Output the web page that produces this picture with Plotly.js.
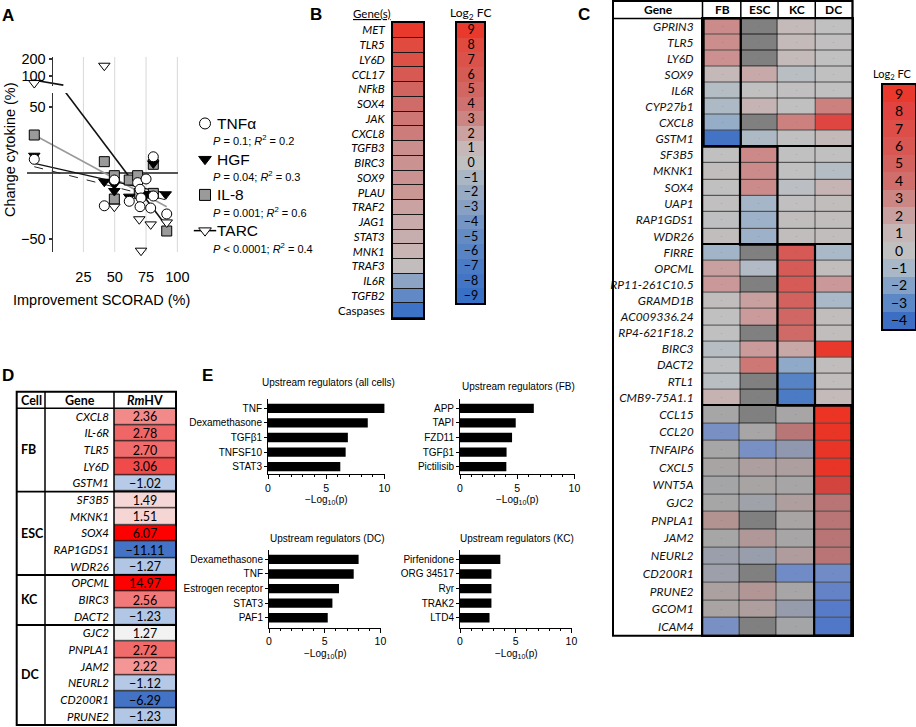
<!DOCTYPE html>
<html><head><meta charset="utf-8">
<script src="https://cdn.plot.ly/plotly-3.0.1.min.js"></script>
<style>html,body{margin:0;padding:0;background:#fff}#chart{width:916px;height:727px}</style>
</head><body><div id="chart"></div>
<script>
// ================= DATA =================
// ---- Panel A: change in cytokine vs SCORAD improvement ----
const tnfX = [-14.2, 41.7, 49.7, 61.6, 68.3, 70.2, 71.0, 70.2, 75.0, 78.7, 80.8, 80.8, 91.5];
const tnfY = [10.4, -24.8, -5.3, -21.4, -7.3, -12.3, -18.9, -25.5, -4.5, -26.5, 12.3, -17.4, -31];
const hgfX = [-14.2, 41.7, 49.7, 49.7, 61.6, 75.5, 80.8, 90.7];
const hgfY = [13.1, -6.6, -8.6, -13.6, -17.9, -15.9, 7.3, -16.1];
const il8X = [-14.2, 41.7, 49.7, 49.7, 61.6, 68.3, 69.6, 80.8, 80.8, 91.5];
const il8Y = [28.8, 8.6, -2, -19.7, -5.3, -2, -15.4, 6.6, -15.4, -43.9];
const tarcX = [49.7, 69.6, 71.0, 78.7, 91.5];
const tarcY = [-25.5, -35, -58.8, -38.9, -37.4];
const tarcHighX = [-14.2, 41.7];
const tarcHighY = [75, 152];
const fitX = [-14.2, 91.5];
const tnfFitY = [4.8, -20.5];
const hgfFitY = [7.3, -15.4];
const il8FitY = [28.8, -25.5];
const tarcFitX = [8.8, 91.8];
const tarcFitY = [63.6, -40.9];
const tarcFitHighX = [-15, 9];
const tarcFitHighY = [85, 69];
const aXTicks = [25, 50, 75, 100];
const aYTicksLow = [-50, 50];
const aYTicksHigh = [100, 200];
const seriesNames = ['TNFα', 'HGF', 'IL-8', 'TARC'];
const seriesStats = ['<i>P</i> = 0.1; <i>R</i><sup>2</sup> = 0.2',
                     '<i>P</i> = 0.04; <i>R</i><sup>2</sup> = 0.3',
                     '<i>P</i> = 0.001; <i>R</i><sup>2</sup> = 0.6',
                     '<i>P</i> < 0.0001; <i>R</i><sup>2</sup> = 0.4'];

// ---- Panel B ----
const bGenes = ['MET','TLR5','LY6D','CCL17','NFkB','SOX4','JAK','CXCL8','TGFB3','BIRC3','SOX9','PLAU','TRAF2','JAG1','STAT3','MNK1','TRAF3','IL6R','TGFB2','Caspases'];
const bFC = [9, 8, 7.3, 6.2, 5.2, 4.6, 3.8, 3.5, 2.7, 2.55, 2.55, 2.4, 2.0, 1.6, 1.45, 1.2, 0.5, -2.7, -5.3, -8.5];
const bLegend = [9,8,7,6,5,4,3,2,1,0,-1,-2,-3,-4,-5,-6,-7,-8,-9];

// ---- Panel C ----
const cCells = ['FB','ESC','KC','DC'];
const cGroupOwner = ['FB','ESC','KC','DC'];
const cG1Genes = ['GPRIN3','TLR5','LY6D','SOX9','IL6R','CYP27b1','CXCL8','GSTM1'];
const cG1FC = [[2.8,null,0.6,0],[2.7,null,0.6,0.1],[2.6,null,0.6,0],[0.8,1.6,-0.3,0],[-0.5,0,0.1,0],[-0.8,1.1,0,3.2],[-1.5,null,3.2,7.8],[-3.8,-0.8,0,0.7]];
const cG2Genes = ['SF3B5','MKNK1','SOX4','UAP1','RAP1GDS1','WDR26'];
const cG2FC = [[0,2.9,0,0],[0.3,2.8,0,-0.5],[0,2.8,-0.2,1.1],[0.1,-1.1,0.1,0.3],[-0.1,-1.3,0.3,0.3],[0.3,-1.3,0.3,0.3]];
const cG3Genes = ['FIRRE','OPCML','RP11-261C10.5','GRAMD1B','AC009336.24','RP4-621F18.2','BIRC3','DACT2','RTL1','CMB9-75A1.1'];
const cG3FC = [[-1.2,null,5.8,-0.9],[2.0,-0.6,5.6,0.3],[2.3,null,5.6,2.3],[0.3,2.0,5.0,-0.9],[0,2.2,4.6,0.3],[0,null,4.3,0.3],[-0.4,2.2,1.7,9],[-0.1,3.6,-1.7,0.3],[-0.3,null,-3.2,0.3],[1.2,null,-3.5,0.6]];
const cG4Genes = ['CCL15','CCL20','TNFAIP6','CXCL5','WNT5A','GJC2','PNPLA1','JAM2','NEURL2','CD200R1','PRUNE2','GCOM1','ICAM4'];
const cG4FC = [[0,null,0.1,9],[-2,0.1,3.2,8.8],[0,-2,-1,8.7],[0.2,0.7,0.7,8.7],[-0.1,0.2,0.1,7],[0,-0.3,0.8,3.3],[1.7,null,0.2,3.3],[0,1.3,0.1,3.3],[-0.5,-0.6,1.0,3.3],[-0.4,null,-2.3,-2.3],[0.5,1.5,0.1,-2.7],[0.3,0.8,-0.7,-3.3],[-2,null,-0.1,-3.6]];
const cLegend = [9,8,7,6,5,4,3,2,1,0,-1,-2,-3,-4];

// ---- Panel D ----
const dCellOf = ['FB','FB','FB','FB','FB','ESC','ESC','ESC','ESC','ESC','KC','KC','KC','DC','DC','DC','DC','DC','DC'];
const dGenes = ['CXCL8','IL-6R','TLR5','LY6D','GSTM1','SF3B5','MKNK1','SOX4','RAP1GDS1','WDR26','OPCML','BIRC3','DACT2','GJC2','PNPLA1','JAM2','NEURL2','CD200R1','PRUNE2'];
const dRmHV = [2.36, 2.78, 2.70, 3.06, -1.02, 1.49, 1.51, 6.07, -11.11, -1.27, 14.97, 2.56, -1.23, 1.27, 2.72, 2.22, -1.12, -6.29, -1.23];

// ---- Panel E ----
const eTitles = ['Upstream regulators (all cells)', 'Upstream regulators (FB)', 'Upstream regulators (DC)', 'Upstream regulators (KC)'];
const eAllLabels = ['TNF','Dexamethasone','TGFβ1','TNFSF10','STAT3'];
const eAllVals = [10.0, 8.57, 6.86, 6.67, 6.21];
const eFBLabels = ['APP','TAPI','FZD11','TGFβ1','Pictilisib'];
const eFBVals = [6.45, 4.87, 4.55, 4.07, 4.05];
const eDCLabels = ['Dexamethasone','TNF','Estrogen receptor','STAT3','PAF1'];
const eDCVals = [8.04, 7.6, 6.28, 5.69, 5.27];
const eKCLabels = ['Pirfenidone','ORG 34517','Ryr','TRAK2','LTD4'];
const eKCVals = [3.62, 2.82, 2.82, 2.82, 2.65];
const eTicks = [0, 5, 10];

// ================= HELPERS / STYLE =================
const W = 916, H = 727;
const px = v => v / W, py = v => 1 - v / H;
const dx = (a, b) => [a / W, b / W];
const dy = (t, b) => [1 - b / H, 1 - t / H];
const FA = 'Liberation Sans, Arial, sans-serif';
const FC = 'Lato, sans-serif';
const fmtMinus = s => String(s).replace('-', '\u2212');
const scale = (stops, zmin, zmax) => stops.map(([v, c]) => [(v - zmin) / (zmax - zmin), c]);

const bStops = [[-9,'#3870c6'],[-8,'#4275c6'],[-7,'#4c7bc6'],[-6,'#5883c5'],[-5,'#658bc5'],[-4,'#7595c5'],[-3,'#88a0c3'],[-2,'#99abc3'],[-1,'#aab6c4'],[0,'#c0c0c0'],[1,'#c6b8b8'],[2,'#c9a2a1'],[3,'#cb8684'],[4,'#cd7270'],[5,'#d16662'],[6,'#d55c55'],[7,'#da5249'],[8,'#e04a3f'],[9,'#e8392c']];
const cStops = [[-4,'#3c6ec4'],[-3,'#5c88c6'],[-2,'#84a2c8'],[-1,'#a8b8c8'],[0,'#c0c0c0'],[1,'#c6b6b6'],[2,'#c9a0a0'],[3,'#cc8684'],[4,'#cf6e6b'],[5,'#d3625f'],[6,'#d85752'],[7,'#dc4e47'],[8,'#e14440'],[9,'#e8392c']];
const c4Stops = [[-4,'#4a74c8'],[-3,'#5c7ec8'],[-2,'#7890c4'],[-1,'#9098b0'],[0,'#a6a6a6'],[1,'#b09c9c'],[2,'#b48e8e'],[3,'#b87878'],[4,'#bc6e6e'],[5,'#c46060'],[6,'#cc5050'],[7,'#d4443f'],[8,'#e03a30'],[9,'#ec3324']];
const dStops = [[-12,'#4472c4'],[-6,'#4472c4'],[-1.3,'#b0c4e4'],[-1.0,'#b8cce8'],[1.0,'#f8f8f8'],[1.27,'#f2f2f2'],[1.5,'#f6d6d6'],[2.2,'#f49898'],[2.8,'#f06464'],[3.1,'#f04646'],[6,'#ff0000'],[15,'#ff0000']];

const traces = [];
const annotations = [];
const shapes = [];
const layout = {
  width: W, height: H, autosize: false,
  margin: {l: 0, r: 0, t: 0, b: 0, pad: 0},
  paper_bgcolor: '#ffffff', plot_bgcolor: 'rgba(0,0,0,0)',
  showlegend: false, hovermode: false,
  font: {family: FA, color: '#000', size: 12},
  annotations: annotations, shapes: shapes
};
const hidden = {visible: false, showgrid: false, zeroline: false, fixedrange: true};
const boxAxis = (extra) => Object.assign({showline: true, mirror: true, linewidth: 2, linecolor: '#000', showgrid: false, zeroline: false, ticks: '', fixedrange: true}, extra);
function ann(text, x, y, opts) {
  annotations.push(Object.assign({text: text, x: x, y: y, xref: 'paper', yref: 'paper', showarrow: false, xanchor: 'center', yanchor: 'middle', font: {family: FA, size: 12, color: '#000'}}, opts || {}));
}
function letter(t, x, y) { ann('<b>' + t + '</b>', px(x), py(y), {font: {family: FA, size: 17, color: '#000'}}); }
function underRect(ax) {
  shapes.push({type: 'rect', xref: 'x' + ax + ' domain', yref: 'y' + ax + ' domain', x0: 0, x1: 1, y0: 0, y1: 1, fillcolor: '#1a1a1a', line: {width: 0}, layer: 'below'});
}
function pline(x0, y0, x1, y1, w) {
  shapes.push({type: 'line', xref: 'paper', yref: 'paper', x0: px(x0), y0: py(y0), x1: px(x1), y1: py(y1), line: {color: '#000', width: w || 1.5}});
}
function prect(x0, y0, x1, y1, w) {
  shapes.push({type: 'rect', xref: 'paper', yref: 'paper', x0: px(x0), y0: py(y0), x1: px(x1), y1: py(y1), line: {color: '#000', width: w || 2}, fillcolor: 'rgba(0,0,0,0)'});
}

// ================= PANEL A =================
letter('A', 7.5, 15.5);
layout.xaxis = {domain: dx(27, 178), range: [-20, 100.5], anchor: 'free', position: py(266), showline: false, ticks: '', tickvals: aXTicks, showgrid: false, zeroline: false, tickfont: {size: 14.5, family: FA}, fixedrange: true};
layout.yaxis = {domain: dy(93, 252), range: [-59.8, 60.6], anchor: 'free', position: px(51.5), showline: true, linewidth: 1.5, linecolor: '#333', ticks: 'outside', ticklen: 3, tickwidth: 1.5, tickcolor: '#333', tickvals: aYTicksLow, ticktext: aYTicksLow.map(fmtMinus), tickfont: {size: 14.5, family: FA}, showgrid: false, zeroline: true, zerolinecolor: '#555', zerolinewidth: 1.5, fixedrange: true};
layout.yaxis2 = {domain: dy(57, 86), type: 'log', range: [1.8228, 2.3365], anchor: 'free', position: px(51.5), showline: true, linewidth: 1.5, linecolor: '#333', ticks: 'outside', ticklen: 3, tickwidth: 1.5, tickcolor: '#333', tickvals: aYTicksHigh, ticktext: aYTicksHigh.map(String), tickfont: {size: 14.5, family: FA}, showgrid: false, zeroline: false, fixedrange: true};
aXTicks.forEach(v => shapes.push({type: 'line', xref: 'x', yref: 'paper', x0: v, x1: v, y0: py(252), y1: py(57), line: {color: '#d8d8d8', width: 1}, layer: 'below'}));
traces.push({type: 'scatter', mode: 'lines', x: fitX, y: il8FitY, line: {color: '#9a9a9a', width: 1.6}, xaxis: 'x', yaxis: 'y'});
traces.push({type: 'scatter', mode: 'lines', x: fitX, y: tnfFitY, line: {color: '#222', width: 1, dash: 'dash'}, xaxis: 'x', yaxis: 'y'});
traces.push({type: 'scatter', mode: 'lines', x: fitX, y: hgfFitY, line: {color: '#111', width: 1.3}, xaxis: 'x', yaxis: 'y'});
traces.push({type: 'scatter', mode: 'lines', x: tarcFitX, y: tarcFitY, line: {color: '#111', width: 1.6}, xaxis: 'x', yaxis: 'y'});
traces.push({type: 'scatter', mode: 'lines', x: tarcFitHighX, y: tarcFitHighY, line: {color: '#111', width: 1.6}, xaxis: 'x', yaxis: 'y2'});
const mk = (sym, fill) => ({symbol: sym, size: 10, color: fill, line: {color: '#000', width: 1}});
traces.push({type: 'scatter', mode: 'markers', x: il8X, y: il8Y, marker: mk('square', '#9a9a9a'), cliponaxis: false, xaxis: 'x', yaxis: 'y'});
traces.push({type: 'scatter', mode: 'markers', x: tarcX, y: tarcY, marker: mk('triangle-down', '#ffffff'), cliponaxis: false, xaxis: 'x', yaxis: 'y'});
traces.push({type: 'scatter', mode: 'markers', x: tarcHighX, y: tarcHighY, marker: mk('triangle-down', '#ffffff'), cliponaxis: false, xaxis: 'x', yaxis: 'y2'});
traces.push({type: 'scatter', mode: 'markers', x: hgfX, y: hgfY, marker: mk('triangle-down', '#000'), cliponaxis: false, xaxis: 'x', yaxis: 'y'});
traces.push({type: 'scatter', mode: 'markers', x: tnfX, y: tnfY, marker: mk('circle', '#ffffff'), cliponaxis: false, xaxis: 'x', yaxis: 'y'});
ann('Change cytokine (%)', px(10), py(150), {textangle: -90, font: {family: FA, size: 14.5}});
ann('Improvement SCORAD (%)', px(101.5), py(300), {font: {family: FA, size: 14.5}});
// legend (category axis holding series names)
layout.xaxis3 = Object.assign({domain: dx(195, 305), range: [-1, 10], anchor: 'y3'}, hidden);
layout.yaxis3 = Object.assign({domain: dy(105.6, 248.5), type: 'category', categoryarray: seriesNames, range: [3.5, -0.5], anchor: 'x3'}, hidden);
traces.push({type: 'scatter', mode: 'markers', x: [0], y: [seriesNames[3]], marker: {symbol: 'line-ew-open', size: 16, color: '#000', line: {color: '#000', width: 1.5}}, cliponaxis: false, xaxis: 'x3', yaxis: 'y3'});
traces.push({type: 'scatter', mode: 'markers', x: seriesNames.map(() => 0), y: seriesNames,
  marker: {symbol: ['circle', 'triangle-down', 'square', 'triangle-down'], color: ['#fff', '#000', '#9a9a9a', '#fff'], size: 11, line: {color: '#000', width: 1}}, cliponaxis: false, xaxis: 'x3', yaxis: 'y3'});
seriesNames.forEach((n, i) => {
  annotations.push({text: n, x: 1.0, y: n, xref: 'x3', yref: 'y3', xanchor: 'left', yanchor: 'middle', showarrow: false, font: {family: FA, size: 15.5}});
  annotations.push({text: seriesStats[i], x: 0.55, y: n, yshift: -17, xref: 'x3', yref: 'y3', xanchor: 'left', yanchor: 'middle', showarrow: false, font: {family: FA, size: 11}});
});

// ================= PANEL B =================
letter('B', 315.5, 14.5);
ann('<u>Gene(s)</u>', px(372), py(14), {font: {family: FC, size: 11.5}});
ann('Log<sub>2</sub> FC', px(470.5), py(13), {font: {family: FC, size: 12}});
layout.xaxis4 = boxAxis({domain: dx(393, 423), anchor: 'y4', showticklabels: false});
layout.yaxis4 = boxAxis({domain: dy(23, 318), anchor: 'x4', type: 'category', autorange: 'reversed', tickvals: bGenes,
  ticktext: bGenes.map(g => g === 'Caspases' ? g : '<i>' + g + '</i>'), tickfont: {family: FC, size: 11.5, color: '#000'}, ticklabelstandoff: 4});
underRect(4);
traces.push({type: 'heatmap', x: ['FC'], y: bGenes, z: bFC.map(v => [v]), zmin: -9, zmax: 9, colorscale: scale(bStops, -9, 9), showscale: false, ygap: 1, xaxis: 'x4', yaxis: 'y4'});
layout.xaxis5 = boxAxis({domain: dx(457, 484), anchor: 'y5', showticklabels: false});
layout.yaxis5 = boxAxis({domain: dy(23, 303), anchor: 'x5', type: 'category', autorange: 'reversed', showticklabels: false});
traces.push({type: 'heatmap', x: ['FC'], y: bLegend.map(String), z: bLegend.map(v => [v]), zmin: -9, zmax: 9, colorscale: scale(bStops, -9, 9), showscale: false,
  text: bLegend.map(v => [fmtMinus(v)]), texttemplate: '%{text}', textfont: {family: FC, size: 12.5, color: '#000'}, xaxis: 'x5', yaxis: 'y5'});

// ================= PANEL C =================
letter('C', 583.5, 14.5);
const cGroups = [[cG1Genes, cG1FC], [cG2Genes, cG2FC], [cG3Genes, cG3FC], [cG4Genes, cG4FC]];
const cRowH = [16.03, 16.3, 16.1, 17.7];
const cTop0 = 18.5, cL = 702.5, cR = 852.5, tblL = 613;
let cTop = cTop0;
cGroups.forEach(([genes, fc], gi) => {
  const n = 6 + gi;
  const bottom = cTop + genes.length * cRowH[gi];
  layout['xaxis' + n] = boxAxis({domain: dx(cL, cR), anchor: 'y' + n, type: 'category', categoryarray: cCells, showticklabels: false, linewidth: 1.5});
  layout['yaxis' + n] = boxAxis({domain: dy(cTop, bottom), anchor: 'x' + n, type: 'category', autorange: 'reversed', linewidth: 1.5,
    tickvals: genes, ticktext: genes.map(g => '<i>' + g + '</i>'), tickfont: {family: FC, size: 12, color: '#111'}, ticklabelstandoff: 5});
  underRect(n);
  // base layer: missing values shown dark grey
  traces.push({type: 'heatmap', x: cCells, y: genes, z: fc.map(r => r.map(() => 0)), zmin: 0, zmax: 1, colorscale: [[0, '#808080'], [1, '#808080']], showscale: false, xgap: 1, ygap: 1, xaxis: 'x' + n, yaxis: 'y' + n});
  const st = gi === 3 ? c4Stops : cStops;
  traces.push({type: 'heatmap', x: cCells, y: genes, z: fc, zmin: -4, zmax: 9, colorscale: scale(st, -4, 9), showscale: false, xgap: 1, ygap: 1, xaxis: 'x' + n, yaxis: 'y' + n});
  // faint cell marks on every cell
  traces.push({type: 'heatmap', x: cCells, y: genes, z: fc.map(r => r.map(() => 0)), zmin: 0, zmax: 1, colorscale: [[0, 'rgba(0,0,0,0)'], [1, 'rgba(0,0,0,0)']], showscale: false,
    text: fc.map(r => r.map(() => '-')), texttemplate: '%{text}', textfont: {size: 5, color: 'rgba(90,90,90,0.5)'}, xaxis: 'x' + n, yaxis: 'y' + n});
  const ci = cCells.indexOf(cGroupOwner[gi]);
  shapes.push({type: 'rect', xref: 'x' + n, yref: 'y' + n + ' domain', x0: ci - 0.5, x1: ci + 0.5, y0: 0, y1: 1, line: {color: '#000', width: 2.2}, fillcolor: 'rgba(0,0,0,0)'});
  cTop = bottom;
});
const cBottom = cTop;
prect(tblL, 1, cR, cBottom, 2);
prect(tblL, 1, cR, cTop0, 1.5);
pline(cL, 1, cL, cBottom, 1.5);
cCells.forEach((c, i) => {
  if (i > 0) shapes.push({type: 'line', xref: 'x6', yref: 'paper', x0: i - 0.5, x1: i - 0.5, y0: py(1), y1: py(cTop0), line: {color: '#000', width: 1.5}});
  annotations.push({text: '<b>' + c + '</b>', x: c, y: py(9.5), xref: 'x6', yref: 'paper', showarrow: false, yanchor: 'middle', borderpad: 0, font: {family: FC, size: 12}});
});
ann('<b>Gene</b>', px(658), py(9.5), {borderpad: 0, font: {family: FC, size: 12}});
ann('Log<sub>2</sub> FC', px(914), py(74), {xanchor: 'right', font: {family: FC, size: 11}});
layout.xaxis10 = boxAxis({domain: dx(883, 915), anchor: 'y10', showticklabels: false});
layout.yaxis10 = boxAxis({domain: dy(85, 329), anchor: 'x10', type: 'category', autorange: 'reversed', showticklabels: false});
traces.push({type: 'heatmap', x: ['FC'], y: cLegend.map(String), z: cLegend.map(v => [v]), zmin: -4, zmax: 9, colorscale: scale(cStops, -4, 9), showscale: false,
  text: cLegend.map(v => [fmtMinus(v)]), texttemplate: '%{text}', textfont: {family: FC, size: 14, color: '#000'}, xaxis: 'x10', yaxis: 'y10'});

// ================= PANEL D =================
letter('D', 7.5, 375);
const dTop = 408.3, dBot = 725, dL = 16.7, dC1 = 45, dC2 = 114, dR = 176, dHead = 391.7;
const dRow = (dBot - dTop) / dGenes.length;
layout.xaxis11 = {domain: dx(dC2, dR), anchor: 'y11', showticklabels: false, showgrid: false, zeroline: false, ticks: '', fixedrange: true};
layout.yaxis11 = {domain: dy(dTop, dBot), anchor: 'x11', type: 'category', autorange: 'reversed', showgrid: false, zeroline: false, ticks: '', fixedrange: true,
  tickvals: dGenes, ticktext: dGenes.map(g => '<i>' + g + '</i>'), tickfont: {family: FC, size: 11.5, color: '#000'}, ticklabelstandoff: 4};
underRect(11);
traces.push({type: 'heatmap', x: ['RmHV'], y: dGenes, z: dRmHV.map(v => [v]), zmin: -12, zmax: 15, colorscale: scale(dStops, -12, 15), showscale: false, ygap: 1.2,
  text: dRmHV.map(v => [fmtMinus(v.toFixed(2))]), texttemplate: '%{text}', textfont: {family: FC, size: 12.5, color: '#000'}, xaxis: 'x11', yaxis: 'y11'});
prect(dL, dHead, dR, dBot, 2);
pline(dC1, dHead, dC1, dBot, 1.5);
pline(dC2, dHead, dC2, dBot, 1.5);
pline(dL, dTop, dR, dTop, 1.5);
ann('<b>Cell</b>', px(31.5), py(400), {font: {family: FC, size: 12.5}});
ann('<b>Gene</b>', px(80), py(400), {font: {family: FC, size: 12.5}});
ann('<b><i>Rm</i>HV</b>', px(145), py(400), {font: {family: FC, size: 12.5}});
{
  let start = 0;
  for (let i = 1; i <= dCellOf.length; i++) {
    if (i === dCellOf.length || dCellOf[i] !== dCellOf[start]) {
      const yc = dTop + (start + i) / 2 * dRow;
      ann('<b>' + dCellOf[start] + '</b>', px(18.5), py(yc), {xanchor: 'left', font: {family: FC, size: 12.5}});
      if (i < dCellOf.length) pline(dL, dTop + i * dRow, dR, dTop + i * dRow, 1.8);
      start = i;
    }
  }
}

// ================= PANEL E =================
letter('E', 207.5, 375);
const eSets = [
  {labels: eAllLabels, vals: eAllVals, x: [268, 385], y: [399.3, 474], r: [4.5, -0.62], title: [328, 382]},
  {labels: eFBLabels, vals: eFBVals, x: [460, 575], y: [399.3, 474], r: [4.5, -0.62], title: [518, 386]},
  {labels: eDCLabels, vals: eDCVals, x: [269, 381], y: [550, 627.7], r: [4.68, -0.64], title: [327, 538]},
  {labels: eKCLabels, vals: eKCVals, x: [460, 572], y: [550, 627.7], r: [4.68, -0.64], title: [517, 538]}
];
eSets.forEach((s, i) => {
  const n = 12 + i;
  layout['xaxis' + n] = {domain: dx(s.x[0], s.x[1]), anchor: 'y' + n, range: [0, 10.05], showline: true, linecolor: '#000', linewidth: 1, ticks: 'outside', ticklen: 4, tickcolor: '#000',
    tickvals: eTicks, tickfont: {family: FA, size: 10.5}, minor: {ticks: 'outside', ticklen: 2, dtick: 1, tickcolor: '#000'}, showgrid: false, zeroline: false, fixedrange: true};
  layout['yaxis' + n] = {domain: dy(s.y[0], s.y[1]), anchor: 'x' + n, type: 'category', categoryarray: s.labels, range: s.r, showline: true, linecolor: '#000', linewidth: 1,
    ticks: 'outside', ticklen: 3, tickcolor: '#000', tickfont: {family: FA, size: 10}, showgrid: false, zeroline: false, fixedrange: true};
  traces.push({type: 'bar', orientation: 'h', x: s.vals, y: s.labels, width: 0.64, marker: {color: '#000', line: {width: 0}}, xaxis: 'x' + n, yaxis: 'y' + n});
  ann(eTitles[i], px(s.title[0]), py(s.title[1]), {font: {family: FA, size: 10}});
  ann('\u2212Log<sub>10</sub>(p)', px((s.x[0] + s.x[1]) / 2), py(s.y[1] + 26), {font: {family: FA, size: 10}});
});

Plotly.newPlot('chart', traces, layout, {staticPlot: true, displayModeBar: false});
</script>
</body></html>
